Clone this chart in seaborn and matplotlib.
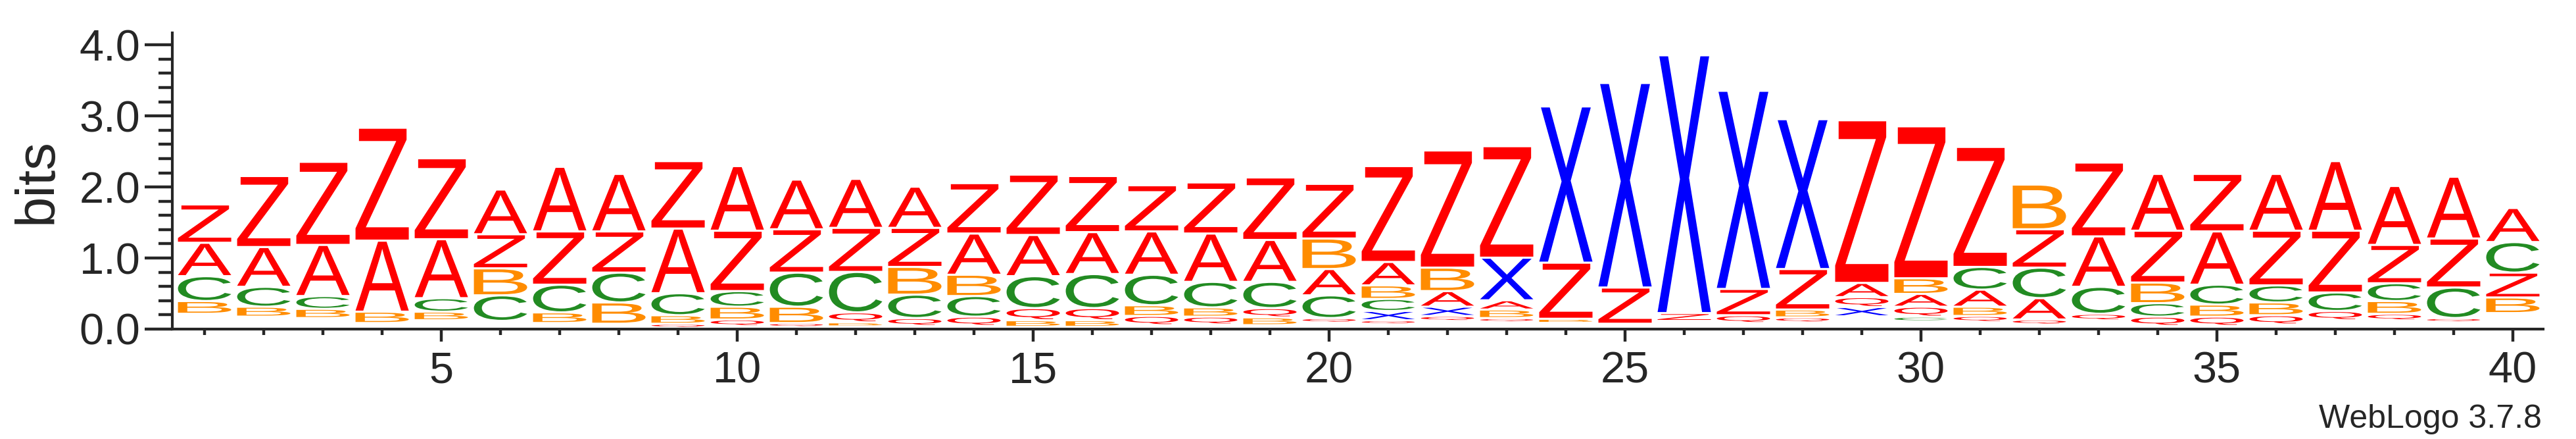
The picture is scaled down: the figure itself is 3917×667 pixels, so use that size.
import matplotlib
matplotlib.use("Agg")
import matplotlib.pyplot as plt
import seaborn as sns
from matplotlib.textpath import TextPath
from matplotlib.font_manager import FontProperties
from matplotlib.patches import PathPatch
from matplotlib.transforms import Affine2D
from matplotlib.ticker import MultipleLocator

# positions of the alignment
positions = list(range(1, 41))

# information (bits) carried by each letter at each position
A = [0.47, 0.56, 0.72, 1.00, 0.83, 0.63, 0.91, 0.81, 0.91, 0.91,
     0.70, 0.69, 0.58, 0.58, 0.58, 0.59, 0.61, 0.68, 0.59, 0.37,
     0.33, 0.22, 0.13, 0.00, 0.00, 0.00, 0.00, 0.00, 0.20, 0.18,
     0.24, 0.30, 0.71, 0.80, 0.75, 0.80, 0.98, 0.83, 0.87, 0.48]
B = [0.18, 0.14, 0.13, 0.16, 0.12, 0.38, 0.15, 0.30, 0.12, 0.18,
     0.23, 0.04, 0.39, 0.30, 0.09, 0.09, 0.15, 0.13, 0.11, 0.43,
     0.19, 0.33, 0.12, 0.04, 0.00, 0.00, 0.00, 0.11, 0.00, 0.22,
     0.13, 0.63, 0.00, 0.29, 0.17, 0.18, 0.00, 0.18, 0.00, 0.22]
C = [0.35, 0.28, 0.18, 0.00, 0.19, 0.36, 0.39, 0.42, 0.31, 0.22,
     0.48, 0.57, 0.33, 0.29, 0.45, 0.48, 0.43, 0.36, 0.37, 0.32,
     0.17, 0.00, 0.00, 0.00, 0.00, 0.00, 0.00, 0.00, 0.00, 0.05,
     0.32, 0.43, 0.38, 0.19, 0.28, 0.24, 0.26, 0.25, 0.43, 0.43]
Q = [0.00, 0.00, 0.00, 0.00, 0.00, 0.00, 0.00, 0.00, 0.04, 0.09,
     0.04, 0.14, 0.11, 0.13, 0.17, 0.17, 0.13, 0.11, 0.13, 0.05,
     0.04, 0.06, 0.04, 0.00, 0.00, 0.00, 0.11, 0.06, 0.14, 0.14,
     0.08, 0.06, 0.09, 0.13, 0.13, 0.13, 0.13, 0.09, 0.04, 0.00]
X = [0.00, 0.00, 0.00, 0.00, 0.00, 0.00, 0.00, 0.00, 0.00, 0.00,
     0.00, 0.00, 0.00, 0.00, 0.00, 0.00, 0.00, 0.00, 0.00, 0.00,
     0.13, 0.13, 0.60, 2.20, 2.88, 3.63, 2.79, 2.11, 0.13, 0.00,
     0.00, 0.00, 0.00, 0.00, 0.00, 0.00, 0.00, 0.00, 0.00, 0.00]
Z = [0.54, 1.00, 1.17, 1.59, 1.14, 0.48, 0.75, 0.58, 0.95, 0.85,
     0.61, 0.62, 0.55, 0.71, 0.85, 0.79, 0.65, 0.72, 0.88, 0.77,
     1.35, 1.65, 1.57, 0.79, 0.51, 0.11, 0.37, 0.57, 2.29, 2.14,
     1.69, 0.54, 1.04, 0.73, 0.81, 0.77, 0.87, 0.54, 0.69, 0.35]
# tiny letters too small to show, stacked under each column
rest = [0.20, 0.16, 0.14, 0.07, 0.11, 0.10, 0.07, 0.06, 0.02, 0.03,
        0.03, 0.04, 0.03, 0.03, 0.02, 0.02, 0.04, 0.05, 0.04, 0.09,
        0.07, 0.11, 0.10, 0.09, 0.06, 0.10, 0.07, 0.09, 0.165, 0.11,
        0.09, 0.06, 0.11, 0.03, 0.03, 0.05, 0.11, 0.11, 0.10, 0.21]

letters = {"A": A, "B": B, "C": C, "Q": Q, "X": X, "Z": Z}
colors = {"A": "#ff0000", "Q": "#ff0000", "Z": "#ff0000",
          "B": "#ff8c00", "C": "#228b22", "X": "#0000ff"}

sns.set_style("ticks")
plt.rcParams["font.family"] = ["Liberation Sans", "DejaVu Sans"]

glyph_font = FontProperties(family="Liberation Sans")


def draw_letter(ax, char, xc, y0, h, width=0.9, gap=0.03):
    g = min(gap, 0.3 * h)
    path = TextPath((0, 0), char, size=1, prop=glyph_font)
    ext = path.get_extents()
    tr = (Affine2D()
          .translate(-ext.x0, -ext.y0)
          .scale(width / ext.width, (h - g) / ext.height)
          .translate(xc - width / 2, y0 + g))
    patch = PathPatch(tr.transform_path(path), facecolor=colors[char],
                      edgecolor="none", lw=0)
    ax.add_patch(patch)


fig = plt.figure(figsize=(39.17, 6.67), dpi=100)
ax = fig.add_axes([0.0669, 0.2504, 0.9203, 0.6747])

for i, pos in enumerate(positions):
    stack = sorted(((letters[k][i], k) for k in letters), key=lambda t: t[0])
    y = rest[i]
    for h, k in stack:
        if h <= 0:
            continue
        draw_letter(ax, k, pos, y, h)
        y += h

ax.set_xlim(0.455, 40.51)
ax.set_ylim(0, 4.17)

ax.yaxis.set_major_locator(MultipleLocator(1.0))
ax.yaxis.set_minor_locator(MultipleLocator(0.2))
ax.set_yticks([0, 1, 2, 3, 4])
ax.set_yticklabels(["0.0", "1.0", "2.0", "3.0", "4.0"])
ax.set_xticks(list(range(5, 41, 5)))
ax.set_xticks(positions, minor=True)

sns.despine(ax=ax)
for side in ("left", "bottom"):
    ax.spines[side].set_linewidth(3)

ax.tick_params(axis="y", which="major", length=30, width=3.2, labelsize=48, pad=5)
ax.tick_params(axis="y", which="minor", length=15, width=3.2)
ax.tick_params(axis="x", which="major", length=14, width=3.2, labelsize=48, pad=10)
ax.tick_params(axis="x", which="minor", length=6.5, width=3.2)

ax.set_ylabel("bits", fontsize=60, labelpad=18)

fig.text(3865 / 3917, 17 / 667, "WebLogo 3.7.8", fontsize=36,
         ha="right", va="baseline")

fig.savefig("out.png", dpi=100)
